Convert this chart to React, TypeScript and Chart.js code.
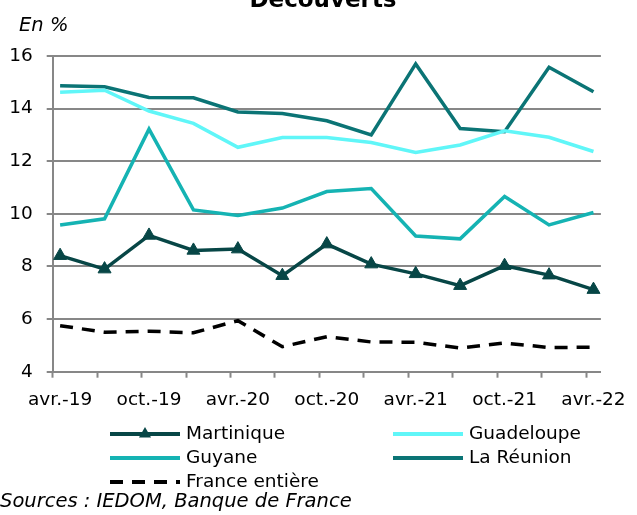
import { useEffect, useRef } from 'react';
import { Chart, registerables } from 'chart.js';

Chart.register(...registerables);

const QUARTERS = [
  'avr.-19', 'juil.-19', 'oct.-19', 'janv.-20', 'avr.-20', 'juil.-20', 'oct.-20',
  'janv.-21', 'avr.-21', 'juil.-21', 'oct.-21', 'janv.-22', 'avr.-22',
];
const TICK_LABELS = ['avr.-19', 'oct.-19', 'avr.-20', 'oct.-20', 'avr.-21', 'oct.-21', 'avr.-22'];

const MARTINIQUE = [8.41, 7.9, 9.18, 8.61, 8.66, 7.65, 8.85, 8.09, 7.72, 7.27, 8.03, 7.67, 7.12];
const GUADELOUPE = [14.62, 14.7, 13.91, 13.44, 12.53, 12.9, 12.9, 12.71, 12.33, 12.62, 13.16, 12.91, 12.37];
const GUYANE = [9.58, 9.81, 13.22, 10.15, 9.94, 10.22, 10.85, 10.96, 9.16, 9.05, 10.66, 9.58, 10.05];
const REUNION = [14.87, 14.83, 14.42, 14.41, 13.87, 13.81, 13.54, 13.0, 15.7, 13.24, 13.12, 15.57, 14.64];
const FRANCE = [5.75, 5.5, 5.54, 5.48, 5.94, 4.95, 5.33, 5.13, 5.12, 4.9, 5.09, 4.92, 4.93];

const Y_MIN = 4;
const Y_MAX = 16;
const Y_STEP = 2;

const TITLE = 'Découverts';
const UNIT = 'En %';
const SOURCE = 'Sources : IEDOM, Banque de France';

const FONT = 'DejaVu Sans';
const GRID = '#878787';

const C_MART = '#074646';
const C_GUAD = '#60f6f8';
const C_GUY = '#15b3b3';
const C_REU = '#0b7475';

// Monthly slots (Excel-like date axis): one point every 3 months
const SLOTS = (QUARTERS.length - 1) * 3 + 1;
const slotLabels = Array.from({ length: SLOTS }, (_, k) => (k % 3 === 0 ? QUARTERS[k / 3] : ''));
const spread = (arr: number[]) => slotLabels.map((_, k) => (k % 3 === 0 ? arr[k / 3] : null));

const overlayPlugin = {
  id: 'overlay',
  afterDraw(chart: any) {
    const ctx = chart.ctx as CanvasRenderingContext2D;
    ctx.save();
    ctx.fillStyle = '#000';
    // Title (cut at top)
    ctx.font = `bold 23px "${FONT}"`;
    ctx.textAlign = 'center';
    ctx.textBaseline = 'alphabetic';
    ctx.fillText(TITLE, 323, 7);
    // Unit
    ctx.font = `italic 19.5px "${FONT}"`;
    ctx.textAlign = 'left';
    ctx.fillText(UNIT, 19, 31);
    // Source
    ctx.fillText(SOURCE, 0, 507);

    // Legend
    const ds = chart.data.datasets;
    const pos = [
      { x: 110, y: 434 },
      { x: 393, y: 434 },
      { x: 110, y: 458 },
      { x: 393, y: 458 },
      { x: 110, y: 482 },
    ];
    ds.forEach((d: any, i: number) => {
      const p = pos[i];
      ctx.save();
      ctx.strokeStyle = d.borderColor;
      ctx.lineWidth = 4;
      ctx.setLineDash(d.borderDash || []);
      ctx.beginPath();
      ctx.moveTo(p.x, p.y);
      ctx.lineTo(p.x + 70, p.y);
      ctx.stroke();
      ctx.setLineDash([]);
      if (d.pointStyle === 'triangle') {
        const cx = p.x + 35;
        const r = 7;
        ctx.fillStyle = d.borderColor;
        ctx.beginPath();
        ctx.moveTo(cx, p.y - r);
        ctx.lineTo(cx + r * 0.866, p.y + r * 0.5);
        ctx.lineTo(cx - r * 0.866, p.y + r * 0.5);
        ctx.closePath();
        ctx.fill();
      }
      ctx.fillStyle = '#000';
      ctx.font = `18.5px "${FONT}"`;
      ctx.textAlign = 'left';
      ctx.textBaseline = 'middle';
      ctx.fillText(d.label, p.x + 76, p.y);
      ctx.restore();
    });
    ctx.restore();
  },
};

export default function App() {
  const ref = useRef<HTMLCanvasElement | null>(null);

  useEffect(() => {
    document.body.style.margin = '0';
    if (!ref.current) return;
    const chart = new Chart(ref.current, {
      type: 'line',
      data: {
        labels: slotLabels,
        datasets: [
          {
            label: 'Martinique',
            data: spread(MARTINIQUE),
            borderColor: C_MART,
            backgroundColor: C_MART,
            borderWidth: 3.5,
            pointStyle: 'triangle',
            pointRadius: 7.5,
            pointBorderWidth: 1,
            pointBackgroundColor: C_MART,
            pointBorderColor: C_MART,
            spanGaps: true,
            tension: 0,
          },
          {
            label: 'Guadeloupe',
            data: spread(GUADELOUPE),
            borderColor: C_GUAD,
            backgroundColor: C_GUAD,
            borderWidth: 3.5,
            pointRadius: 0,
            spanGaps: true,
          },
          {
            label: 'Guyane',
            data: spread(GUYANE),
            borderColor: C_GUY,
            backgroundColor: C_GUY,
            borderWidth: 3.5,
            pointRadius: 0,
            spanGaps: true,
          },
          {
            label: 'La Réunion',
            data: spread(REUNION),
            borderColor: C_REU,
            backgroundColor: C_REU,
            borderWidth: 3.5,
            pointRadius: 0,
            spanGaps: true,
          },
          {
            label: 'France entière',
            data: spread(FRANCE),
            borderColor: '#000',
            backgroundColor: '#000',
            borderWidth: 3.5,
            borderDash: [13, 9],
            pointRadius: 0,
            spanGaps: true,
          },
        ],
      } as any,
      options: {
        animation: false,
        responsive: false,
        devicePixelRatio: 1,
        layout: { padding: { top: 56, left: 0, right: 27.7, bottom: 0 } },
        plugins: {
          legend: { display: false },
          tooltip: { enabled: false },
          title: { display: false },
        },
        scales: {
          x: {
            type: 'category',
            offset: true,
            grid: {
              display: true,
              offset: true,
              drawOnChartArea: false,
              drawTicks: true,
              tickLength: 6,
              tickWidth: 2,
              tickColor: (c: any) =>
                c.index !== undefined && c.index % 3 === 0 ? GRID : 'rgba(0,0,0,0)',
            },
            border: { display: true, color: GRID, width: 2 },
            ticks: {
              autoSkip: false,
              maxRotation: 0,
              minRotation: 0,
              padding: 11,
              color: '#000',
              font: { family: FONT, size: 18.5 },
              callback: (_v: any, i: number) =>
                TICK_LABELS.includes(slotLabels[i]) ? slotLabels[i] : '',
            },
            afterFit: (s: any) => {
              s.height = 143.3;
            },
          },
          y: {
            min: Y_MIN,
            max: Y_MAX,
            ticks: {
              stepSize: Y_STEP,
              padding: 14,
              color: '#000',
              font: { family: FONT, size: 18.5 },
            },
            grid: { color: GRID, lineWidth: 2, tickLength: 6, drawTicks: true, tickColor: GRID },
            border: { display: true, color: GRID, width: 2 },
            afterFit: (s: any) => {
              s.width = 52.7;
            },
          },
        },
      } as any,
      plugins: [overlayPlugin],
    });
    return () => chart.destroy();
  }, []);

  return <canvas ref={ref} width={637} height={515} style={{ display: 'block' }} />;
}
